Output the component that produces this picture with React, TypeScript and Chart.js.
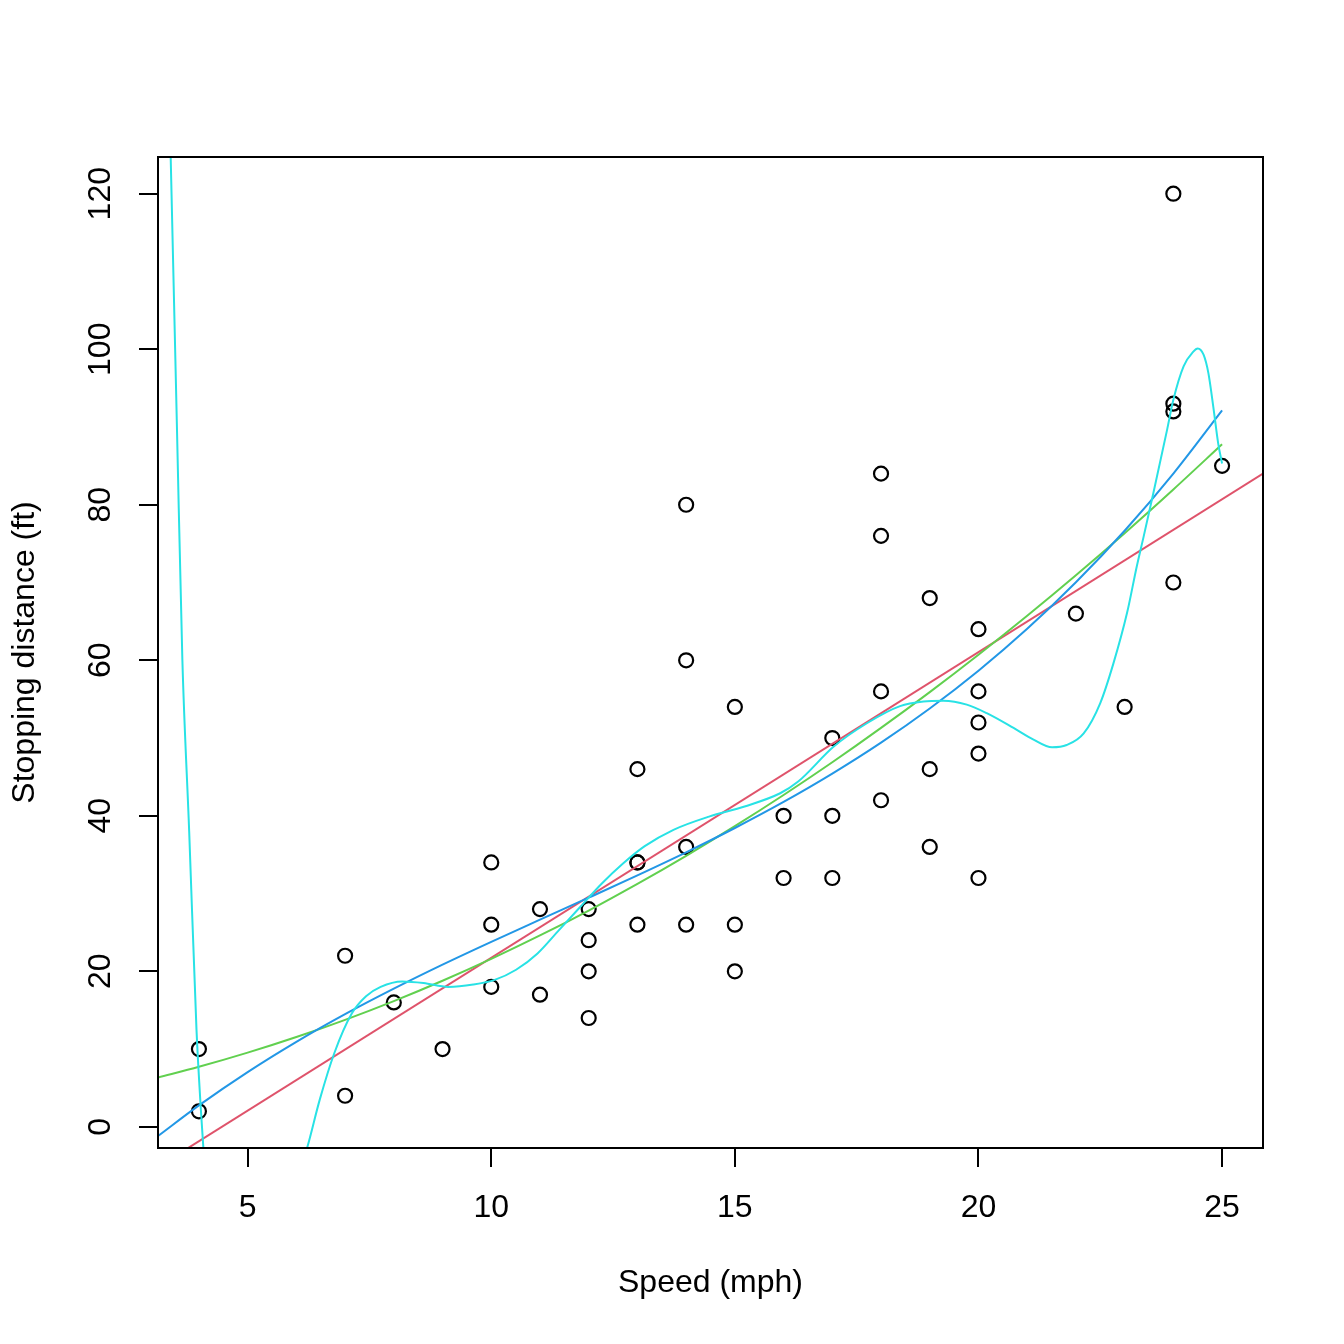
import React, { useEffect, useRef } from "react";
import { Chart, registerables } from "chart.js";

Chart.register(...registerables);

// Observed data: speed (mph) and stopping distance (ft)
const speed = [4, 4, 7, 7, 8, 9, 10, 10, 10, 11, 11, 12, 12, 12, 12, 13, 13, 13, 13, 14, 14, 14, 14, 15, 15, 15, 16, 16, 17, 17, 17, 18, 18, 18, 18, 19, 19, 19, 20, 20, 20, 20, 20, 22, 23, 24, 24, 24, 24, 25];
const dist = [2, 10, 4, 22, 16, 10, 18, 26, 34, 17, 28, 14, 20, 24, 28, 26, 34, 34, 46, 26, 36, 60, 80, 20, 26, 54, 32, 40, 32, 40, 50, 42, 56, 76, 84, 36, 46, 68, 32, 48, 52, 56, 64, 66, 54, 70, 92, 93, 120, 85];

// Straight (red) line, read at the plot edges
const lineX = [3.16, 25.84];
const lineY = [-5.15, 84.02];

// Smooth fitted curves read at these speeds
const fitX = [3.16, 4, 5, 6, 7, 8, 9, 10, 11, 12, 13, 14, 15, 16, 17, 18, 19, 20, 21, 22, 23, 24, 25];
const quadY = [6.35, 7.72, 9.54, 11.55, 13.76, 16.17, 18.79, 21.6, 24.61, 27.82, 31.24, 34.85, 38.66, 42.67, 46.88, 51.3, 55.91, 60.72, 65.73, 70.94, 76.35, 81.97, 87.78];
const cubicY = [-1.18, 2.76, 7.04, 10.93, 14.49, 17.77, 20.86, 23.79, 26.64, 29.47, 32.34, 35.3, 38.43, 41.78, 45.42, 49.4, 53.79, 58.65, 64.04, 70.03, 76.66, 84.01, 92.14];

// Wiggly high-degree (cyan) curve (null = off the plot)
const wiggleX = [3.38, 3.42, 3.55, 3.66, 3.8, 3.95, 4.04, 4.1, 5.0, 6.18, 6.23, 6.48, 6.78, 7.14, 7.43, 7.73, 8.17, 8.61, 9.12, 9.63, 10.07, 10.51, 10.95, 11.39, 11.83, 12.27, 12.71, 13.15, 13.74, 14.47, 15.2, 15.93, 16.3, 17.03, 17.71, 18.39, 18.87, 19.28, 19.76, 20.17, 20.72, 21.13, 21.51, 21.81, 22.16, 22.5, 22.77, 23.05, 23.25, 23.39, 23.59, 23.87, 24.0, 24.21, 24.41, 24.5, 24.62, 24.72, 24.82, 24.92, 25.0];
const wiggleY = [135, 124.8, 89.6, 60.1, 38, 12.5, 2.2, -3.5, null, -3.5, -2.5, 3.5, 9.5, 14.6, 16.8, 18.0, 18.7, 18.5, 18.0, 18.3, 18.9, 20.2, 22.3, 25.3, 28.3, 31.3, 33.9, 36.1, 38.2, 39.9, 41.2, 42.9, 44.4, 48.9, 51.9, 54.1, 54.7, 54.8, 54.3, 53.2, 51.3, 49.8, 48.8, 49.1, 50.6, 54.5, 59.6, 66.1, 72.1, 75.9, 81.5, 89.6, 93.5, 97.8, 99.7, 100.1, 99.3, 96.9, 92.6, 87.9, 85.3];

const xTicks = [5, 10, 15, 20, 25];
const yTicks = [0, 20, 40, 60, 80, 100, 120];

const xTitle = "Speed (mph)";
const yTitle = "Stopping distance (ft)";

const FONT = "'Liberation Sans', Arial, Helvetica, sans-serif";

const zip = (xs: number[], ys: (number | null)[]) => xs.map((x, i) => ({ x, y: ys[i] }));

export default function App() {
  const ref = useRef<HTMLCanvasElement | null>(null);

  useEffect(() => {
    if (!ref.current) return;
    const boxPlugin = {
      id: "rbox",
      afterDraw(chart: any) {
        const { ctx, chartArea } = chart;
        ctx.save();
        ctx.strokeStyle = "#000";
        ctx.lineWidth = 2;
        ctx.strokeRect(chartArea.left, chartArea.top, chartArea.right - chartArea.left, chartArea.bottom - chartArea.top);
        ctx.restore();
      },
    };
    const lineCommon = {
      showLine: true,
      pointRadius: 0,
      pointHoverRadius: 0,
      borderWidth: 2,
      fill: false,
      clip: 0,
      cubicInterpolationMode: "monotone" as const,
    };
    const chart = new Chart(ref.current, {
      type: "scatter",
      data: {
        datasets: [
          { ...lineCommon, label: "wiggle", data: zip(wiggleX, wiggleY), borderColor: "#28E2E5", spanGaps: false },
          { ...lineCommon, label: "cubic", data: zip(fitX, cubicY), borderColor: "#2297E6" },
          { ...lineCommon, label: "quadratic", data: zip(fitX, quadY), borderColor: "#61D04F" },
          { ...lineCommon, label: "linear", data: zip(lineX, lineY), borderColor: "#DF536B", cubicInterpolationMode: "default" as const },
          {
            label: "cars",
            data: zip(speed, dist),
            showLine: false,
            pointRadius: 7,
            pointHoverRadius: 7,
            pointBorderWidth: 2.2,
            pointBorderColor: "#000",
            pointBackgroundColor: "rgba(0,0,0,0)",
            borderColor: "#000",
            backgroundColor: "rgba(0,0,0,0)",
            clip: false,
          },
        ],
      },
      options: {
        animation: false,
        responsive: false,
        devicePixelRatio: 1,
        events: [],
        layout: { padding: { left: 0, top: 157, right: 81, bottom: 0 } },
        plugins: { legend: { display: false }, tooltip: { enabled: false } },
        scales: {
          x: {
            type: "linear",
            position: "bottom",
            min: 3.16,
            max: 25.84,
            afterFit: (s: any) => { s.height = 196; },
            afterBuildTicks: (s: any) => { s.ticks = xTicks.map((v) => ({ value: v })); },
            border: { display: false },
            grid: { drawOnChartArea: false, drawTicks: true, tickLength: 19, tickColor: "#000", tickWidth: 2, color: "#000", lineWidth: 2 },
            ticks: {
              autoSkip: false,
              maxRotation: 0,
              minRotation: 0,
              padding: 22,
              color: "#000",
              font: { family: FONT, size: 32 },
              callback: (v: any) => String(v),
            },
            title: {
              display: true,
              text: xTitle,
              color: "#000",
              font: { family: FONT, size: 32 },
              padding: { top: 0, bottom: 42 },
            },
          },
          y: {
            type: "linear",
            position: "left",
            min: -2.72,
            max: 124.72,
            afterFit: (s: any) => { s.width = 158; },
            afterBuildTicks: (s: any) => { s.ticks = yTicks.map((v) => ({ value: v })); },
            border: { display: false },
            grid: { drawOnChartArea: false, drawTicks: true, tickLength: 19, tickColor: "#000", tickWidth: 2, color: "#000", lineWidth: 2 },
            ticks: {
              autoSkip: false,
              minRotation: 90,
              maxRotation: 90,
              crossAlign: "center",
              padding: 11,
              color: "#000",
              font: { family: FONT, size: 32 },
              callback: (v: any) => String(v),
            },
            title: {
              display: true,
              text: yTitle,
              color: "#000",
              font: { family: FONT, size: 32 },
              padding: { top: 6, bottom: 0 },
            },
          },
        },
      },
      plugins: [boxPlugin],
    });
    return () => chart.destroy();
  }, []);

  return (
    <div style={{ position: "fixed", left: 0, top: 0, width: 1344, height: 1344, background: "#fff" }}>
      <canvas ref={ref} width={1344} height={1344} style={{ display: "block", width: 1344, height: 1344 }} />
    </div>
  );
}
